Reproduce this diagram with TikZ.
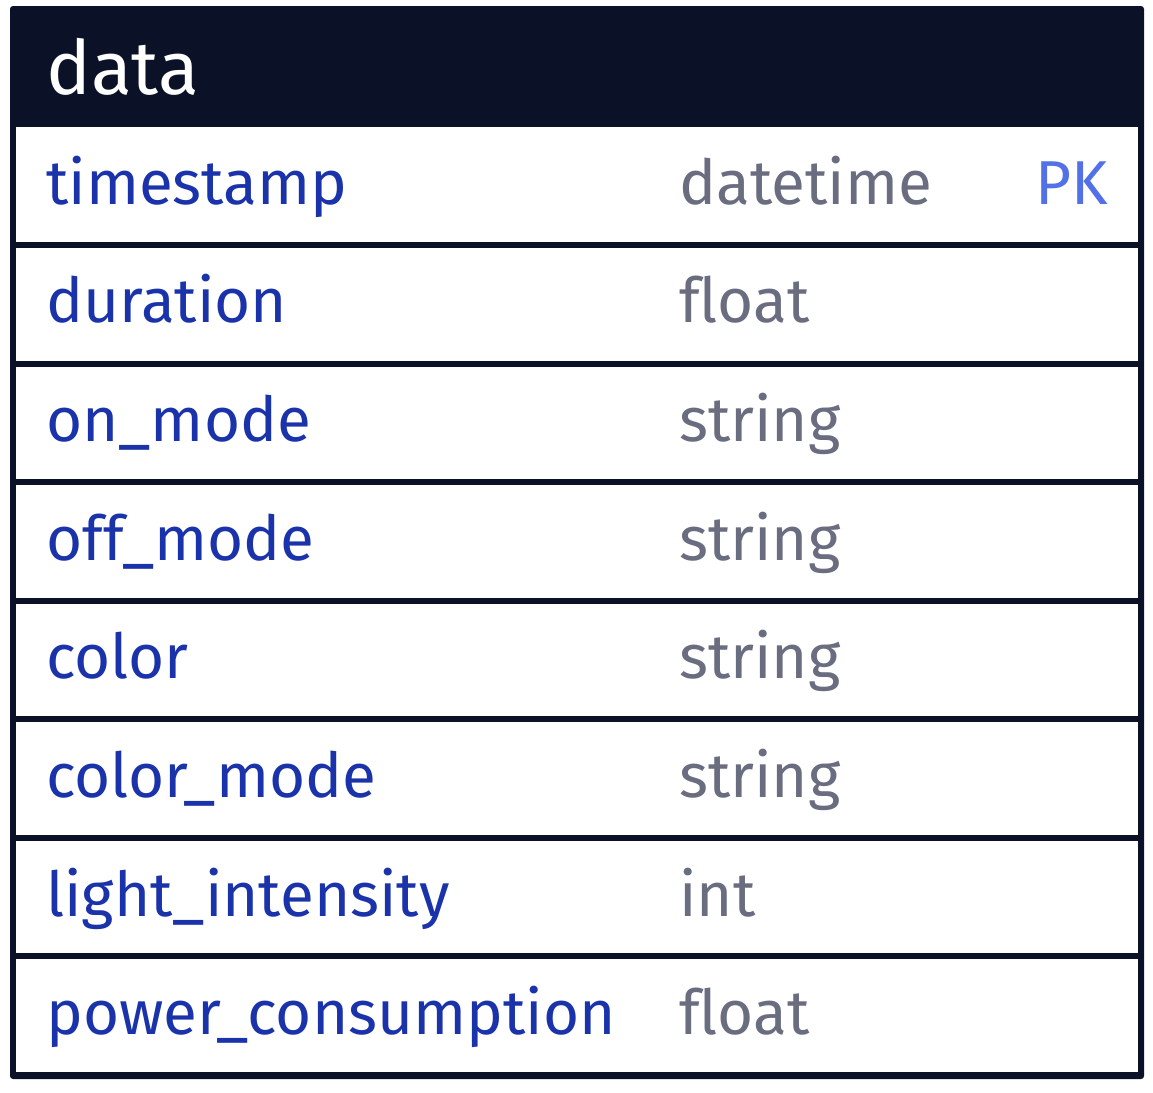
\documentclass[tikz,border=0pt]{standalone}
\usepackage{fontspec}
\setmainfont[Ligatures=NoCommon]{Fira Sans}
\definecolor{headbg}{HTML}{0B1126}
\definecolor{namecol}{HTML}{1B33AA}
\definecolor{typecol}{HTML}{6A6D80}
\definecolor{keycol}{HTML}{5271E8}
\begin{document}
\begin{tikzpicture}[x=1pt,y=-1pt,
  fieldname/.style={anchor=base west,inner sep=0pt,text=namecol,font=\fontsize{62}{62}\selectfont},
  fieldtype/.style={anchor=base west,inner sep=0pt,text=typecol,font=\fontsize{62}{62}\selectfont},
  keytag/.style={anchor=base east,inner sep=0pt,text=keycol,font=\fontsize{62}{62}\selectfont},
  title/.style={anchor=base west,inner sep=0pt,text=white,font=\fontsize{75}{75}\selectfont}]
\useasboundingbox (0,0) rectangle (1153,1092);
% table frame and header
\fill[headbg,rounded corners=3pt] (10,6) rectangle (1144,1079);
\node[title] (tname) at (46,94) {data};
% white cells of the rows
\fill[white] (16,127) rectangle (1138,242);
\foreach \k in {1,...,7}{
  \fill[white] (16,{248+118.5*(\k-1)}) rectangle (1138,{242+118.5*\k});
}
% field rows
\foreach \k/\nm/\tp in {0/timestamp/datetime,1/duration/float,2/on\_mode/string,
  3/off\_mode/string,4/color/string,5/color\_mode/string,6/light\_intensity/int,
  7/power\_consumption/float}{
  \node[fieldname] (n\k) at (46,{204+118.7*\k}) {\nm};
  \node[fieldtype] (t\k) at (679,{204+118.7*\k}) {\tp};
}
\node[keytag] (pk) at (1108,204) {PK};
\end{tikzpicture}
\end{document}
